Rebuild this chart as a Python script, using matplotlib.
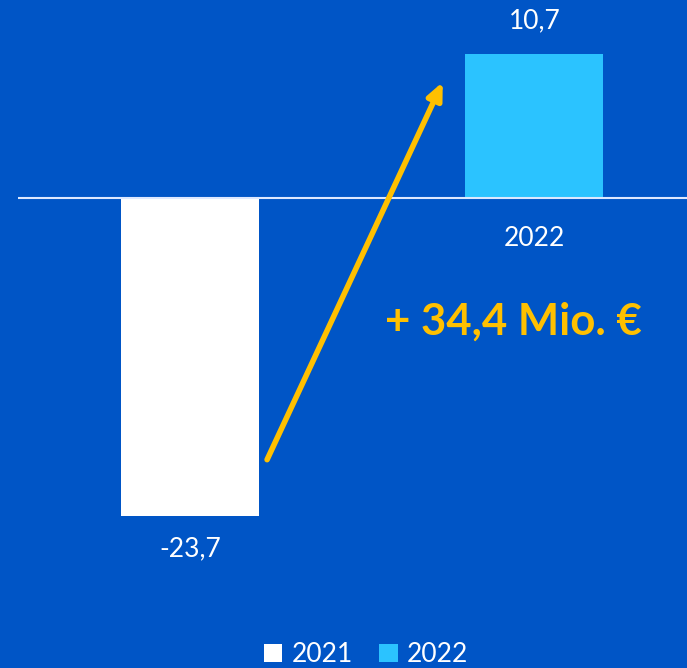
import matplotlib.pyplot as plt
from matplotlib.patches import Patch

# chart data
years = ["2021", "2022"]
values = [-23.7, 10.7]
value_labels = ["-23,7", "10,7"]
delta_label = "+ 34,4 Mio. €"

BG = "#0055C6"
BAR_COLORS = ["#FFFFFF", "#2BC3FF"]
ORANGE = "#FFC000"
FONT = ["Lato", "DejaVu Sans"]

plt.rcParams['font.family'] = FONT

fig = plt.figure(figsize=(6.87, 6.68), dpi=100, facecolor=BG)
# axes start at x=18px, run to the right edge
ax = fig.add_axes([18 / 687, 0, 1 - 18 / 687, 1])
ax.set_facecolor(BG)

xpos = list(range(len(years)))
ax.bar(xpos, values, width=0.40, color=BAR_COLORS, zorder=2)
ax.axhline(0, color="#DDE8FF", linewidth=1.5, zorder=3)

ax.set_xlim(-0.499, 1.443)
ax.set_ylim(-35.02, 14.75)
ax.axis("off")

# value labels above / below each bar
for x, v, lab in zip(xpos, values, value_labels):
    off = 2.5 if v > 0 else -2.45
    ax.text(x, v + off, lab, ha="center", va="center", color="white", fontsize=19)

# category labels just below the zero line (2021 is white on white)
for x, yr in zip(xpos, years):
    ax.text(x, -3.0, yr, ha="center", va="center", color="white", fontsize=19, zorder=1)

# arrow from the 2021 bar up to the 2022 bar
ax.annotate("", xy=(0.734, 8.64), xytext=(0.224, -19.5),
            arrowprops=dict(arrowstyle="-|>,head_length=1.0,head_width=0.45",
                            color=ORANGE, lw=4, shrinkA=0, shrinkB=0), zorder=4)

ax.text(0.938, -9.24, delta_label, ha="center", va="center", color=ORANGE,
        fontsize=31.5, fontweight="bold")

handles = [Patch(facecolor=c, edgecolor="none") for c in BAR_COLORS]
fig.legend(handles, years, loc="center", bbox_to_anchor=(0.533, 0.0195), ncol=2,
           frameon=False, fontsize=19, labelcolor="white", handlelength=0.7,
           handleheight=0.7, handletextpad=0.35, columnspacing=1.0)

fig.savefig("out.png", dpi=100, facecolor=BG)
